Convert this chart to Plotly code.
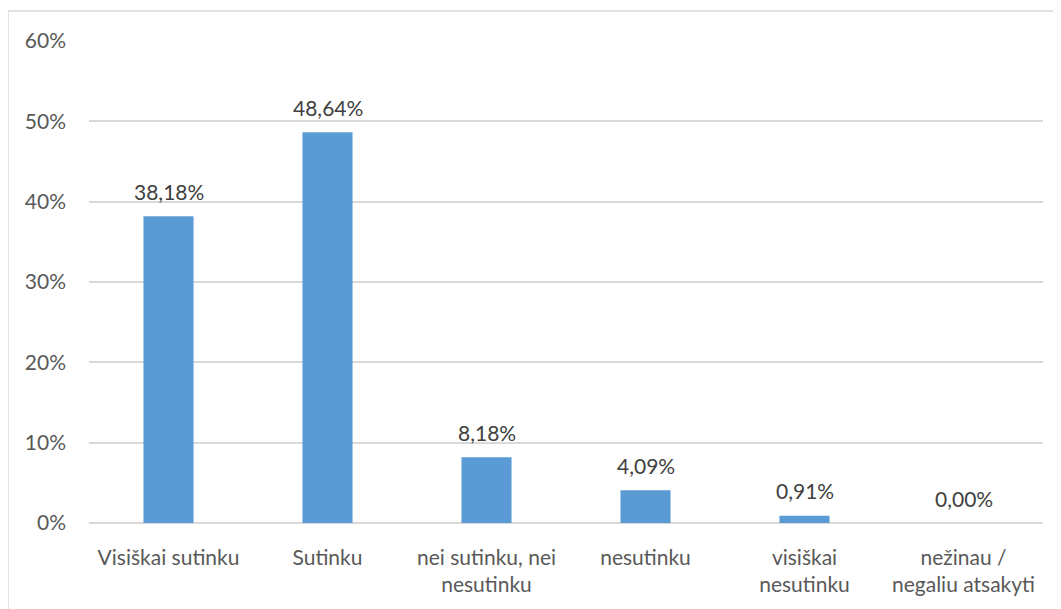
import plotly.graph_objects as go

categories = ["Visiškai sutinku", "Sutinku", "nei sutinku, nei<br>nesutinku",
              "nesutinku", "visiškai<br>nesutinku", "nežinau /<br>negaliu atsakyti"]
values = [38.18, 48.64, 8.18, 4.09, 0.91, 0.00]
labels = ["38,18%", "48,64%", "8,18%", "4,09%", "0,91%", "0,00%"]
yticks = [0, 10, 20, 30, 40, 50, 60]
yticklabels = ["0%", "10%", "20%", "30%", "40%", "50%", "60%"]

OFF = 8  # default page body margin
W, H = 1061 - OFF, 609 - OFF
L, T = 89 - OFF, 41 - OFF
pw, ph = 954, 482
R, B = W - L - pw, H - T - ph

FONT = "Lato"
FS = 21

fig = go.Figure(go.Bar(
    x=categories, y=values,
    marker=dict(color="#5B9BD5", line=dict(width=0)),
    hoverinfo="skip",
))

annotations = [
    dict(x=c, y=v, text=t, xref="x", yref="y", showarrow=False,
         yanchor="middle", yshift=25,
         font=dict(size=FS, color="#404040", family=FONT))
    for c, v, t in zip(categories, values, labels)
]

fig.update_layout(
    width=W, height=H,
    margin=dict(l=L, r=R, t=T, b=B),
    paper_bgcolor="white", plot_bgcolor="white",
    bargap=0.685, showlegend=False,
    font=dict(family=FONT, size=FS, color="#595959"),
    xaxis=dict(showgrid=False, showline=False, ticks="", ticklabelstandoff=20,
               tickfont=dict(size=FS, color="#595959", family=FONT)),
    yaxis=dict(range=[0, 60], tickvals=yticks, ticktext=yticklabels,
               showgrid=True, gridcolor="#D9D9D9", gridwidth=1.5,
               zeroline=True, zerolinecolor="#D9D9D9", zerolinewidth=1.5,
               showline=False, ticks="", ticklabelstandoff=22,
               tickfont=dict(size=FS, color="#595959", family=FONT)),
    annotations=annotations,
    shapes=[dict(type="rect", xref="paper", yref="paper",
                 x0=(0 - L) / pw, x1=(W + 5 - L) / pw,
                 y0=-(H + 5 - (T + ph)) / ph, y1=1 + (T - 3) / ph,
                 line=dict(color="#D9D9D9", width=1.5), fillcolor="rgba(0,0,0,0)", layer="below")],
)

fig.write_html("out.html")
